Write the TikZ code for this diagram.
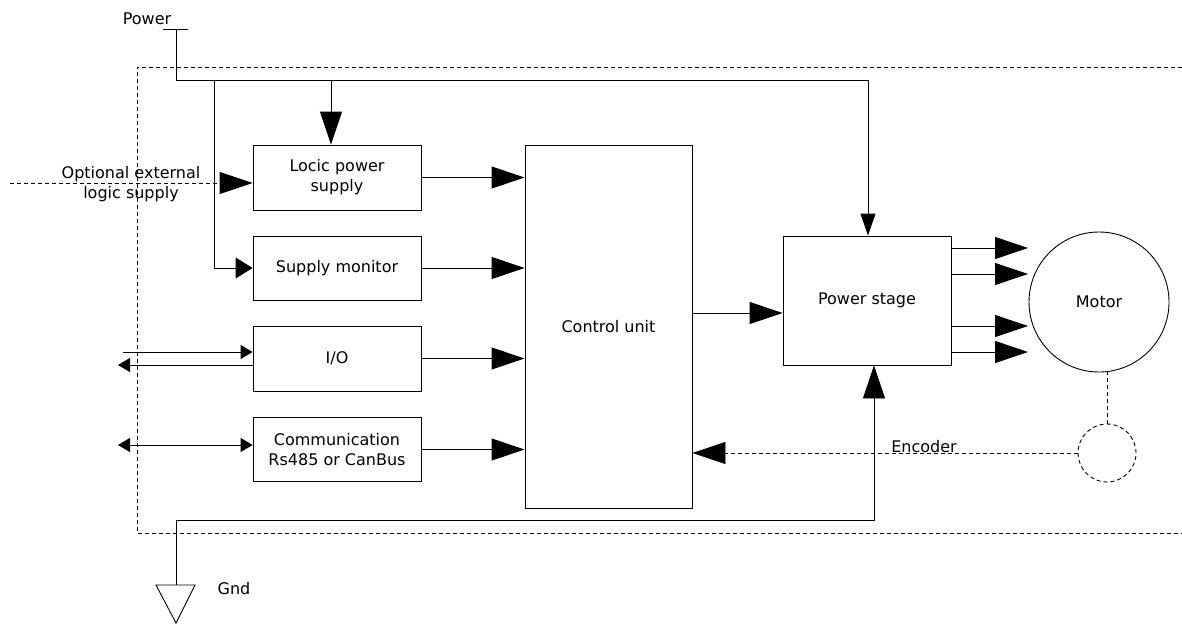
\documentclass[tikz,border=0pt]{standalone}
\usepackage{fontspec}
\setmainfont{DejaVu Sans}
\usetikzlibrary{arrows.meta}
\begin{document}
\begin{tikzpicture}[x=1pt,y=-1pt,line width=0.9pt,
  every node/.style={font=\fontsize{16}{20}\selectfont},
  box/.style={draw,inner sep=0pt,align=center,minimum width=168pt},
  bigtip/.style={-{Triangle[length=33pt,width=22pt]}},
  medtip/.style={-{Triangle[length=17pt,width=21pt]}},
  downtip/.style={-{Triangle[length=22pt,width=15pt]}},
  smalltip/.style={-{Triangle[length=12pt,width=14pt]}},
  dblsmall/.style={{Triangle[length=12pt,width=14pt]}-{Triangle[length=12pt,width=14pt]}},
  dashln/.style={dash pattern=on 4pt off 3pt},
  lbl/.style={inner sep=0pt,align=center}]
\useasboundingbox (0,0) rectangle (1182,624);
% boundary
\draw[dashln] (1182,67) -| (137,533) -- (1182,533);
% boxes
\node[box,minimum height=65pt] (lps) at (337,177.5) {Locic power\\supply};
\node[box,minimum height=64pt] (sm) at (337,268) {Supply monitor};
\node[box,minimum height=65pt] (io) at (337,358.5) {I/O};
\node[box,minimum height=64pt] (comm) at (337,449.5) {Communication\\Rs485 or CanBus};
\node[box,minimum width=167pt,minimum height=363pt] (cu) at (608.5,326.5) {Control unit};
\node[box,minimum height=129pt] (ps) at (867,300.5) {Power stage};
\node[draw,circle,inner sep=0pt,minimum size=140pt] (motor) at (1099,302) {Motor};
\node[draw,dashln,circle,inner sep=0pt,minimum size=58pt] (enc) at (1107,453) {};
% labels
\node[lbl] (powerlbl) at (147,19) {Power};
\node[lbl] (optlbl) at (131,184.5) {Optional external\\logic supply};
\node[lbl] (enclbl) at (924,447) {Encoder};
\node[lbl] (gndlbl) at (234,589) {Gnd};
% power supply
\coordinate (pl) at (163,29);
\coordinate (pr) at (188,29);
\coordinate (pw) at (176,29);
\coordinate (bus) at (868,80);
\coordinate (j1) at (331,80);
\coordinate (j2) at (214,80);
\draw (pl) -- (pr);
\draw[downtip] (pw) |- (bus) -- (bus |- ps.north);
\draw[bigtip] (j1) -- (j1 |- lps.north);
\draw[medtip] (j2) |- (sm.west);
% optional external
\coordinate (ext) at (10,183);
\draw[dashln,bigtip] (ext) -- (ext -| lps.west);
% to control unit
\draw[bigtip] (lps.east) -- (lps.east -| cu.west);
\draw[bigtip] (sm.east) -- (sm.east -| cu.west);
\draw[bigtip] (io.east) -- (io.east -| cu.west);
\draw[bigtip] (comm.east) -- (comm.east -| cu.west);
% I/O
\coordinate (ioin) at (123,352);
\coordinate (ioout) at (118,365);
\draw[smalltip] (ioin) -- (ioin -| io.west);
\draw[smalltip] (ioout -| io.west) -- (ioout);
\coordinate (cmx) at (118,445);
\draw[dblsmall] (cmx) -- (cmx -| comm.west);
% control to power stage
\coordinate (cp) at (0,313);
\draw[bigtip] (cu.east |- cp) -- (ps.west |- cp);
% power stage to motor
\coordinate (m1) at (1028,248);
\coordinate (m2) at (1028,274);
\coordinate (m3) at (1028,326);
\coordinate (m4) at (1028,352);
\foreach \m in {m1,m2,m3,m4}{\draw[bigtip] (ps.east |- \m) -- (\m);}
% encoder
\draw[dashln] (enc.north) -- (enc.north |- motor.south);
\draw[dashln,bigtip] (enc.west) -- (enc.west -| cu.east);
% ground
\coordinate (g) at (176,585);
\coordinate (gb) at (874,520);
\coordinate (gl) at (156,585);
\coordinate (gr) at (195,585);
\coordinate (gt) at (176,623);
\draw[bigtip] (g) |- (gb) -- (gb |- ps.south);
\draw (gl) -- (gr) -- (gt) -- cycle;
\end{tikzpicture}
\end{document}
